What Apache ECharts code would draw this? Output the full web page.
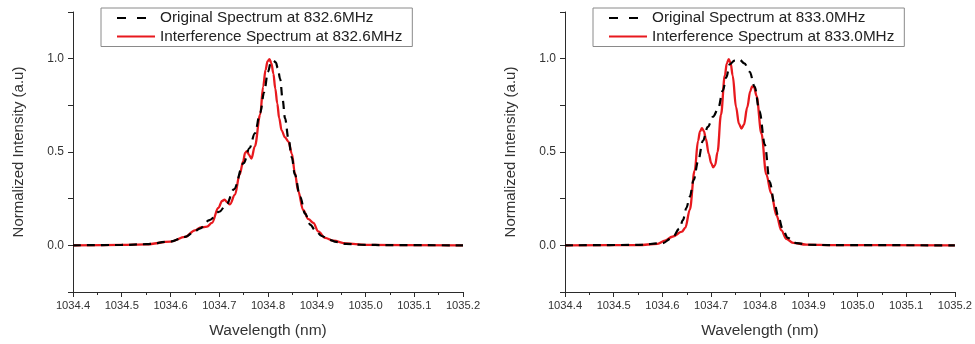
<!DOCTYPE html>
<html>
<head>
<meta charset="utf-8">
<script src="https://cdn.jsdelivr.net/npm/echarts@6/dist/echarts.min.js"></script>
<style>
html,body{margin:0;padding:0;background:#fff;}
#chart{width:975px;height:344px;}
</style>
</head>
<body>
<div id="chart"></div>
<script>
// ---- Data ----
const xTickLabels = ['1034.4','1034.5','1034.6','1034.7','1034.8','1034.9','1035.0','1035.1','1035.2'];
const yTickLabels = ['0.0','0.5','1.0'];

const leftTitleOrig = 'Original Spectrum at 832.6MHz';
const leftTitleInt = 'Interference Spectrum at 832.6MHz';
const rightTitleOrig = 'Original Spectrum at 833.0MHz';
const rightTitleInt = 'Interference Spectrum at 833.0MHz';

// Left panel (832.6 MHz) - original spectrum
const leftOrigWl = [1034.40,1034.50,1034.55,1034.60,1034.63,1034.65,1034.66,1034.68,1034.70,1034.715,1034.73,1034.75,1034.762,1034.773,1034.784,1034.792,1034.80,1034.806,1034.811,1034.816,1034.82,1034.825,1034.83,1034.835,1034.842,1034.849,1034.855,1034.866,1034.876,1034.887,1034.897,1034.91,1034.925,1034.94,1034.96,1034.99,1035.05,1035.20];
const leftOrigVal = [0,0.002,0.006,0.02,0.045,0.075,0.09,0.135,0.18,0.22,0.30,0.44,0.52,0.60,0.71,0.82,0.93,0.98,0.99,0.98,0.95,0.89,0.78,0.68,0.57,0.47,0.38,0.26,0.17,0.11,0.08,0.05,0.03,0.018,0.008,0.003,0.001,0];

// Left panel - interference spectrum
const leftIntWl = [1034.40,1034.50,1034.55,1034.60,1034.63,1034.65,1034.662,1034.675,1034.685,1034.698,1034.706,1034.711,1034.716,1034.722,1034.732,1034.742,1034.749,1034.753,1034.757,1034.761,1034.766,1034.773,1034.784,1034.79,1034.795,1034.799,1034.803,1034.807,1034.811,1034.815,1034.819,1034.823,1034.828,1034.835,1034.842,1034.849,1034.855,1034.862,1034.872,1034.883,1034.893,1034.903,1034.917,1034.934,1034.96,1035.00,1035.20];
const leftIntVal = [0,0.002,0.005,0.02,0.045,0.08,0.096,0.10,0.12,0.20,0.238,0.245,0.232,0.22,0.27,0.38,0.45,0.495,0.505,0.485,0.465,0.53,0.70,0.85,0.94,0.985,0.998,0.975,0.92,0.84,0.76,0.68,0.615,0.578,0.555,0.49,0.39,0.29,0.19,0.14,0.12,0.075,0.04,0.025,0.01,0.002,0];

// Right panel (833.0 MHz) - original spectrum
const rightOrigWl = [1034.40,1034.55,1034.60,1034.62,1034.635,1034.642,1034.649,1034.656,1034.664,1034.673,1034.683,1034.693,1034.704,1034.714,1034.724,1034.731,1034.738,1034.748,1034.758,1034.768,1034.779,1034.789,1034.799,1034.81,1034.82,1034.83,1034.838,1034.847,1034.857,1034.875,1034.90,1034.95,1035.20];
const rightOrigVal = [0,0.002,0.012,0.04,0.09,0.135,0.20,0.26,0.35,0.45,0.56,0.635,0.69,0.73,0.83,0.90,0.97,0.99,0.995,0.975,0.93,0.85,0.72,0.54,0.34,0.22,0.15,0.085,0.04,0.012,0.003,0.001,0];

// Right panel - interference spectrum
const rightIntWl = [1034.40,1034.55,1034.59,1034.605,1034.62,1034.64,1034.647,1034.656,1034.666,1034.673,1034.677,1034.681,1034.685,1034.689,1034.695,1034.700,1034.704,1034.708,1034.713,1034.72,1034.728,1034.732,1034.736,1034.740,1034.744,1034.751,1034.757,1034.762,1034.767,1034.774,1034.780,1034.784,1034.788,1034.793,1034.803,1034.813,1034.823,1034.834,1034.844,1034.854,1034.868,1034.895,1034.95,1035.20];
const rightIntVal = [0,0.001,0.008,0.025,0.046,0.073,0.095,0.19,0.40,0.56,0.61,0.628,0.612,0.57,0.49,0.44,0.418,0.43,0.50,0.70,0.91,0.975,0.997,0.975,0.91,0.74,0.65,0.626,0.645,0.74,0.825,0.852,0.848,0.80,0.60,0.38,0.28,0.16,0.08,0.035,0.013,0.004,0.001,0];

// ---- Build chart ----
const zip = (xs, ys) => xs.map((x, i) => [x, ys[i]]);
const FONT = '"Liberation Sans", Arial, Helvetica, sans-serif';
const RED = '#e8191e';
const AXIS = '#2b2b2b';

function xAxisOpt(gi) {
  return {
    type: 'value', gridIndex: gi, min: 1034.4, max: 1035.2, interval: 0.1,
    name: 'Wavelength (nm)', nameLocation: 'middle', nameGap: 31,
    nameTextStyle: { fontFamily: FONT, fontSize: 15.5, color: '#333' },
    axisLine: { show: true, onZero: false, lineStyle: { color: AXIS, width: 1 } },
    axisTick: { show: true, inside: false, length: 5, lineStyle: { color: AXIS } },
    minorTick: { show: true, splitNumber: 2, length: 3, lineStyle: { color: AXIS } },
    axisLabel: { fontFamily: FONT, fontSize: 11.2, color: '#333', margin: 8,
      formatter: v => { const s = v.toFixed(1); return xTickLabels.includes(s) ? s : ''; } },
    splitLine: { show: false }
  };
}
function yAxisOpt(gi) {
  return {
    type: 'value', gridIndex: gi, min: -0.25, max: 1.25, interval: 0.25,
    name: 'Normalized Intensity (a.u)', nameLocation: 'middle', nameGap: 47,
    nameTextStyle: { fontFamily: FONT, fontSize: 15, color: '#333' },
    axisLine: { show: true, onZero: false, lineStyle: { color: AXIS, width: 1 } },
    axisTick: { show: true, inside: false, length: 5, lineStyle: { color: AXIS } },
    axisLabel: { fontFamily: FONT, fontSize: 12, color: '#333', margin: 9,
      formatter: v => { const s = (Math.abs(v) < 1e-9 ? 0 : v).toFixed(1); return (Math.abs(v * 2 - Math.round(v * 2)) < 1e-6 && yTickLabels.includes(s)) ? s : ''; } },
    splitLine: { show: false }
  };
}
function legendOpt(left, names) {
  return {
    left: left, top: 8, orient: 'vertical',
    data: [
      { name: names[0], lineStyle: { type: [9, 11] } },
      { name: names[1] }
    ],
    borderColor: '#8a8a8a', borderWidth: 1, borderRadius: 0,
    padding: [2, 10, 2, 15], itemGap: 2.5, itemWidth: 38, itemHeight: 16,
    itemStyle: { opacity: 0 },
    textStyle: { fontFamily: FONT, fontSize: 15.3, color: '#222', lineHeight: 16 },
    selectedMode: false
  };
}
function origSeries(name, gi, data) {
  return { name: name, type: 'line', xAxisIndex: gi, yAxisIndex: gi, data: data,
    symbol: 'none', smooth: 0.35, smoothMonotone: 'x', z: 3,
    lineStyle: { color: '#000', width: 2.2, type: [8, 6] }, itemStyle: { color: '#000' } };
}
function intSeries(name, gi, data) {
  return { name: name, type: 'line', xAxisIndex: gi, yAxisIndex: gi, data: data,
    symbol: 'none', smooth: 0.35, smoothMonotone: 'x', z: 2,
    lineStyle: { color: RED, width: 2.3 }, itemStyle: { color: RED } };
}

const chart = echarts.init(document.getElementById('chart'), null, { renderer: 'canvas' });
chart.setOption({
  backgroundColor: '#fff',
  animation: false,
  grid: [
    { left: 73, top: 12, width: 390, height: 284, containLabel: false },
    { left: 565, top: 12, width: 390, height: 284, containLabel: false }
  ],
  xAxis: [xAxisOpt(0), xAxisOpt(1)],
  yAxis: [yAxisOpt(0), yAxisOpt(1)],
  legend: [legendOpt(101, [leftTitleOrig, leftTitleInt]), legendOpt(593, [rightTitleOrig, rightTitleInt])],
  series: [
    origSeries(leftTitleOrig, 0, zip(leftOrigWl, leftOrigVal)),
    intSeries(leftTitleInt, 0, zip(leftIntWl, leftIntVal)),
    origSeries(rightTitleOrig, 1, zip(rightOrigWl, rightOrigVal)),
    intSeries(rightTitleInt, 1, zip(rightIntWl, rightIntVal))
  ]
});
</script>
</body>
</html>
